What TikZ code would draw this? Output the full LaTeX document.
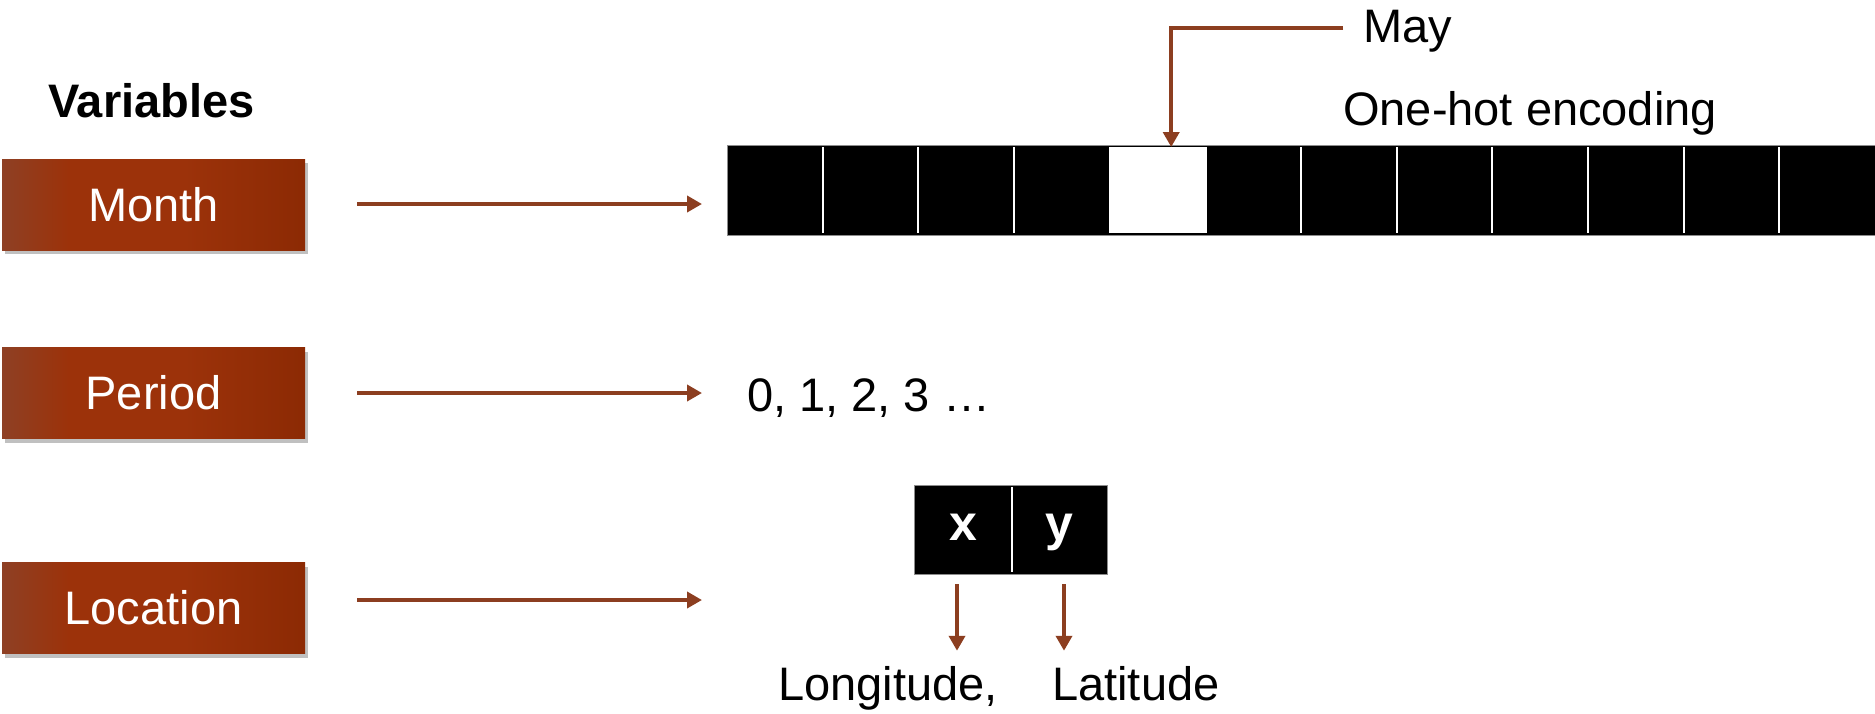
\documentclass[tikz,border=0pt]{standalone}
\usepackage{fontspec}
\setmainfont{Liberation Sans}
\usetikzlibrary{arrows.meta,shadows}
\definecolor{arrbrown}{RGB}{140,62,32}
\definecolor{boxL}{RGB}{142,64,36}
\definecolor{boxM}{RGB}{156,50,10}
\definecolor{boxR}{RGB}{140,42,4}
\pgfdeclarehorizontalshading{varshade}{100bp}{color(0bp)=(boxL); color(25bp)=(boxL); color(36bp)=(boxM); color(55bp)=(boxM); color(75bp)=(boxR); color(100bp)=(boxR)}
\tikzset{
  varbox/.style={minimum width=303pt, minimum height=91pt, inner sep=0pt,
    shading=varshade, draw=none,
    text=white, font=\fontsize{47}{56}\selectfont,
    drop shadow={shadow xshift=3pt, shadow yshift=-4pt, opacity=0.35, fill=black!70}},
  conn/.style={draw=arrbrown, line width=4.5pt, -{Triangle[length=15pt,width=16pt]}},
  lbl/.style={inner sep=0pt, anchor=base west, font=\fontsize{47}{56}\selectfont},
  cellbar/.style={fill=black, draw=black!45, line width=1pt, inner sep=0pt, anchor=north west},
  divider/.style={draw=white, line width=2pt},
  coord/.style={text=white, inner sep=0pt, anchor=base, font=\bfseries\fontsize{50}{60}\selectfont},
}
\begin{document}
\begin{tikzpicture}[x=1pt,y=-1pt]
\useasboundingbox[fill=white] (0,0) rectangle (1875,713);

% heading
\node[lbl, font=\bfseries\fontsize{47}{56}\selectfont] (vars) at (48,117) {Variables};

% variable boxes
\node[varbox] (month) at (153.5,204.5) {Month};
\node[varbox] (period) at (153.5,393) {Period};
\node[varbox] (location) at (153.5,608) {Location};

% one-hot bar
\node[cellbar, minimum width=1148pt, minimum height=90pt] (bar) at (727,145) {};
\foreach \k in {1,2,3,6,7,8,9,10,11}{
  \draw[divider] ({727+\k*95.67},147) -- ({727+\k*95.67},233);
}
\node[fill=white, inner sep=0pt, anchor=north west, minimum width=98pt, minimum height=86pt] (maycell) at (1109,147) {};

\node[lbl] (onehot) at (1343,125) {One-hot encoding};
\node[lbl] (may) at (1363,42) {May};
\coordinate (mayline) at (1343,28);
\draw[conn] (mayline) -| ([xshift=13pt]maycell.north);

% period values
\node[lbl] (seq) at (747,411) {0, 1, 2, 3 …};

% location box
\node[cellbar, minimum width=193pt, minimum height=89pt] (xy) at (914,485) {};
\draw[divider] (1012,487) -- (1012,572);
\node[coord] (xlab) at (963,540) {x};
\node[coord] (ylab) at (1059,540) {y};

\node[lbl] (lon) at (778,700) {Longitude,};
\node[lbl] (lat) at (1052,700) {Latitude};

% connectors
\coordinate (m0) at (357,204);
\coordinate (p0) at (357,393);
\coordinate (l0) at (357,600);
\coordinate (l1) at (702,600);
\draw[conn, shorten >=25pt] (m0) -- (bar.west |- m0);
\draw[conn, shorten >=45pt] (p0) -- (seq.west |- p0);
\draw[conn] (l0) -- (l1);

\coordinate (xa) at (957,584);
\coordinate (ya) at (1064,584);
\draw[conn, shorten >=15pt] (xa) -- (xa |- lon.north);
\draw[conn, shorten >=15pt] (ya) -- (ya |- lat.north);
\end{tikzpicture}
\end{document}
